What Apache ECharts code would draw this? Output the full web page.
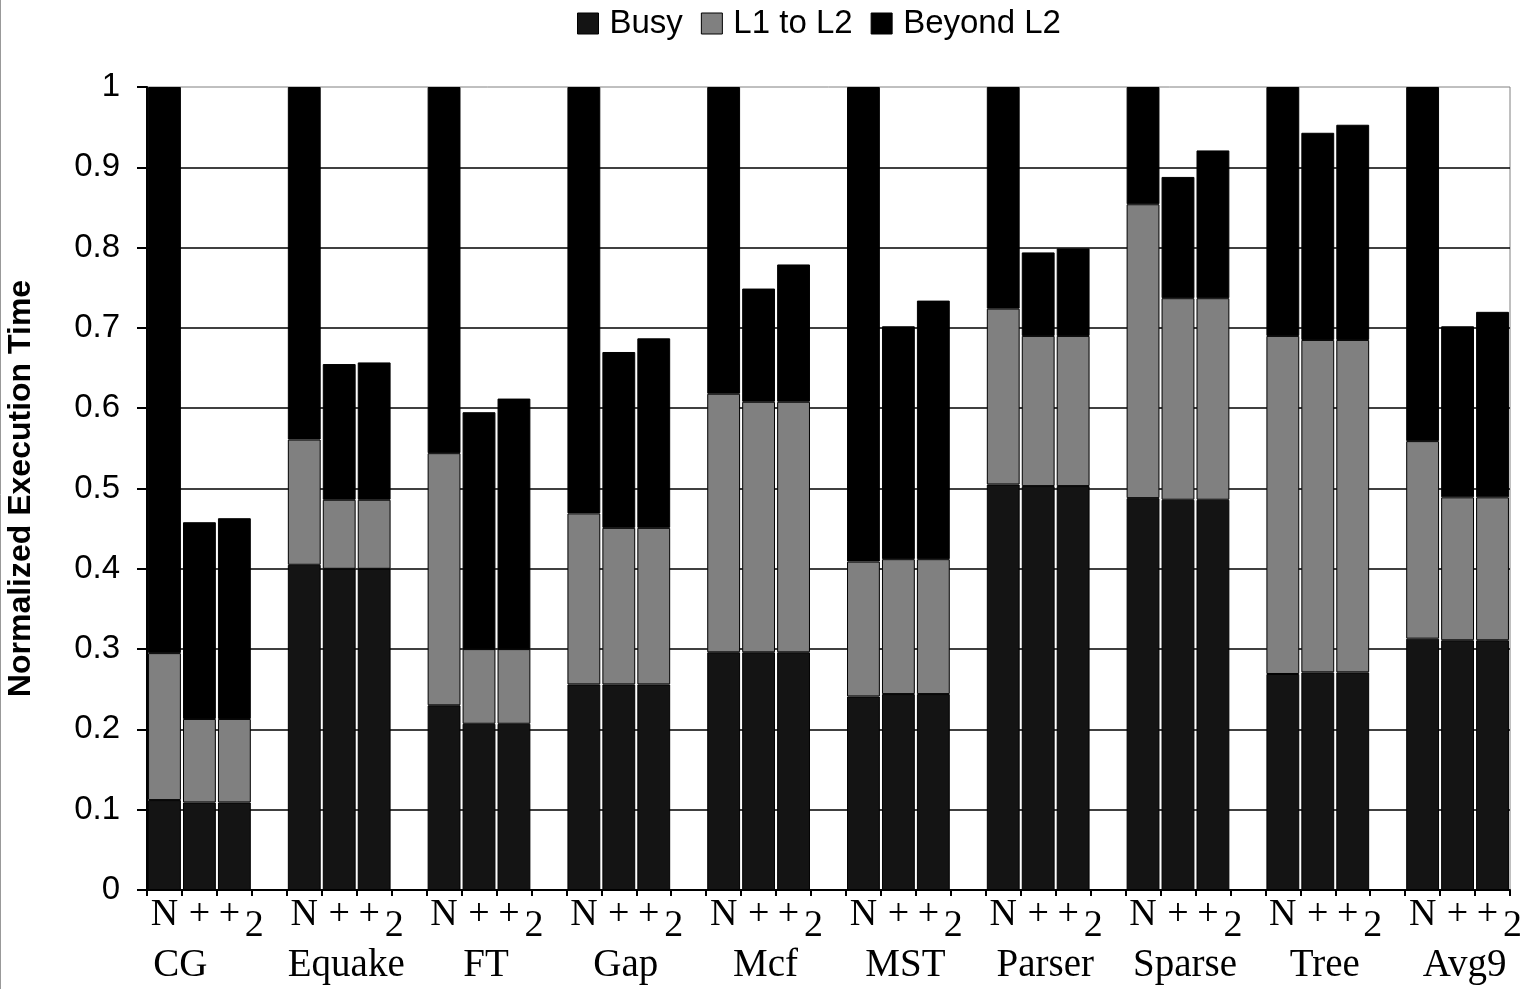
<!DOCTYPE html>
<html>
<head>
<meta charset="utf-8">
<script src="https://cdn.jsdelivr.net/npm/echarts@6/dist/echarts.min.js"></script>
<style>
html,body{margin:0;padding:0;background:#fff;}
#chart{width:1535px;height:989px;}
</style>
</head>
<body>
<div id="chart"></div>
<script>
// ---- data ----
const groups = ['CG','Equake','FT','Gap','Mcf','MST','Parser','Sparse','Tree','Avg9'];
const variants = ['N','+','+2'];
const seriesNames = ['Busy','L1 to L2','Beyond L2'];
// per group: [N, +, +2]
const busy = [
  [0.112,0.109,0.109],[0.405,0.400,0.400],[0.230,0.207,0.207],[0.256,0.256,0.256],[0.296,0.296,0.296],
  [0.241,0.244,0.244],[0.505,0.503,0.503],[0.488,0.486,0.486],[0.269,0.271,0.271],[0.313,0.311,0.311]
];
const l1ToL2 = [
  [0.183,0.104,0.104],[0.156,0.086,0.086],[0.314,0.093,0.093],[0.213,0.195,0.195],[0.322,0.312,0.312],
  [0.168,0.168,0.168],[0.219,0.187,0.187],[0.366,0.251,0.251],[0.421,0.414,0.414],[0.246,0.178,0.178]
];
const beyondL2 = [
  [0.705,0.245,0.250],[0.439,0.169,0.171],[0.456,0.295,0.312],[0.531,0.219,0.236],[0.382,0.141,0.171],
  [0.591,0.290,0.322],[0.276,0.104,0.109],[0.146,0.151,0.184],[0.310,0.258,0.268],[0.441,0.213,0.231]
];
const yTicks = [0,0.1,0.2,0.3,0.4,0.5,0.6,0.7,0.8,0.9,1];

// ---- build slots (3 bars + 1 gap per group, no gap after last) ----
const slots = [];
const slotGroup = [];
const slotPos = [];
groups.forEach((g, gi) => {
  for (let p = 0; p < 4; p++) {
    if (gi === groups.length - 1 && p === 3) break;
    slots.push(g + '_' + p);
    slotGroup.push(gi);
    slotPos.push(p);
  }
});
function slotData(arr) {
  return slots.map((s, i) => slotPos[i] < 3 ? arr[slotGroup[i]][slotPos[i]] : '-');
}
const colors = ['#141414', '#808080', '#000000'];
const dataSets = [busy, l1ToL2, beyondL2];

const chart = echarts.init(document.getElementById('chart'), null, {renderer: 'canvas'});
const serif = '"Liberation Serif", "Times New Roman", serif';
const sans = '"Liberation Sans", Arial, sans-serif';

const baseX = {
  type: 'category',
  data: slots,
  position: 'bottom',
  gridIndex: 0
};

const option = {
  animation: false,
  backgroundColor: '#fff',
  legend: {
    top: 2,
    left: 572,
    itemWidth: 21,
    itemHeight: 21,
    itemGap: 18,
    icon: 'rect',
    textStyle: {fontFamily: sans, fontSize: 33, color: '#000', padding: [0,0,0,6]},
    data: seriesNames.map((n, i) => ({name: n, itemStyle: {color: colors[i], borderColor: '#000', borderWidth: 1}}))
  },
  grid: {
    left: 147, right: 25, top: 87, bottom: 99,
    outerBoundsMode: 'none',
    containLabel: false,
    show: true, borderColor: '#808080', borderWidth: 1, backgroundColor: '#fff'
  },
  xAxis: [
    Object.assign({}, baseX, {
      axisLine: {show: true, lineStyle: {color: '#000', width: 2}},
      axisTick: {show: true, length: 6, interval: 0, lineStyle: {color: '#000', width: 2}},
      axisLabel: {
        interval: 0, margin: 6,
        formatter: function (v, i) {
          const p = slotPos[i];
          if (p === 0) return '{a|N}';
          if (p === 1) return '{a|+}';
          if (p === 2) return '{b|+}';
          return '';
        },
        rich: {
          a: {fontFamily: serif, fontSize: 38, color: '#000', lineHeight: 38},
          b: {fontFamily: serif, fontSize: 38, color: '#000', lineHeight: 38, padding: [0,10,0,0]}
        }
      }
    }),
    Object.assign({}, baseX, {
      axisLine: {show: false}, axisTick: {show: false},
      axisLabel: {
        interval: 0, margin: 17,
        formatter: function (v, i) { return slotPos[i] === 2 ? '{s|2}' : ''; },
        rich: {s: {fontFamily: serif, fontSize: 38, color: '#000', lineHeight: 38, padding: [0,0,0,40]}}
      }
    }),
    Object.assign({}, baseX, {
      axisLine: {show: false}, axisTick: {show: false},
      axisLabel: {
        interval: 0, margin: 56,
        formatter: function (v, i) {
          if (slotPos[i] !== 1) return '';
          return (slotGroup[i] === 0 ? '{c|' : '{g|') + groups[slotGroup[i]] + '}';
        },
        rich: {
          g: {fontFamily: serif, fontSize: 39, color: '#000', lineHeight: 39, padding: [0,0,0,14]},
          c: {fontFamily: serif, fontSize: 39, color: '#000', lineHeight: 39, padding: [0,38,0,0]}
        }
      }
    })
  ],
  yAxis: {
    type: 'value',
    min: yTicks[0], max: yTicks[yTicks.length - 1], interval: 0.1,
    name: 'Normalized Execution Time',
    nameLocation: 'middle',
    nameRotate: 90,
    nameGap: 110,
    nameTextStyle: {fontFamily: sans, fontWeight: 'bold', fontSize: 32, color: '#000'},
    axisLine: {show: true, lineStyle: {color: '#000', width: 2}},
    axisTick: {show: true, length: 10, lineStyle: {color: '#000', width: 2}},
    axisLabel: {fontFamily: sans, fontSize: 33, color: '#000', margin: 27},
    splitLine: {show: true, showMaxLine: false, lineStyle: {color: '#000', width: 1.5}}
  },
  series: seriesNames.map((n, si) => ({
    name: n,
    type: 'bar',
    stack: 'total',
    xAxisIndex: 0,
    barCategoryGap: '6%',
    itemStyle: {color: colors[si], borderColor: '#000', borderWidth: 1},
    data: slotData(dataSets[si])
  })),
  graphic: [{
    type: 'line', shape: {x1: 0.5, y1: 0, x2: 0.5, y2: 989},
    style: {stroke: '#999', lineWidth: 1}
  }]
};
chart.setOption(option);
</script>
</body>
</html>
